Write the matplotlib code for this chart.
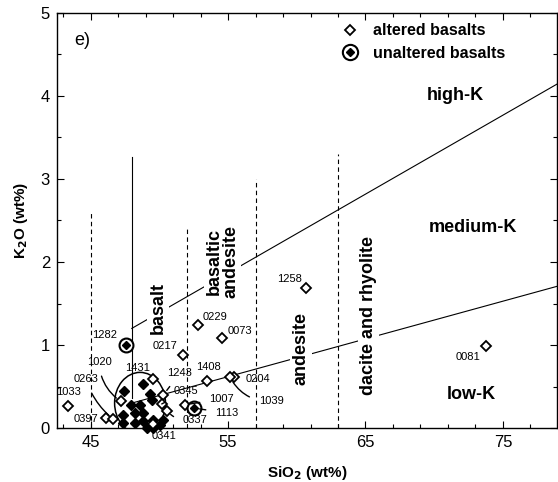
import numpy as np
import matplotlib
matplotlib.use("Agg")
import matplotlib.pyplot as plt
from matplotlib.lines import Line2D
from matplotlib.patches import Ellipse
from matplotlib.legend_handler import HandlerTuple
from matplotlib.ticker import FixedLocator, MultipleLocator

plt.rcParams['font.family'] = ['Liberation Sans', 'DejaVu Sans']

# altered basalts (open diamonds)
alt_id = ['1033', '0397', '0263', '1020', '1431', '0217', '1243', '0345', '0337', '0341',
          '1408', '0204', '1039', '1007', '0229', '0073', '1258', '0081']
alt_sio2 = [43.39, 46.13, 46.62, 47.2, 49.55, 51.75, 50.3, 50.18, 50.54, 49.52,
            53.45, 55.44, 55.15, 51.87, 52.8, 54.54, 60.65, 73.8]
alt_k2o = [0.265, 0.12, 0.11, 0.32, 0.59, 0.88, 0.40, 0.29, 0.21, 0.05,
           0.57, 0.62, 0.61, 0.28, 1.24, 1.08, 1.69, 0.99]

# unaltered basalts that carry a sample number (circled)
unalt_id = ['1282', '1113']
unalt_sio2 = [47.56, 52.53]
unalt_k2o = [1.0, 0.24]

# unaltered basalts inside the grouped field
clu_sio2 = [47.44, 48.84, 49.33, 47.92, 48.6, 49.45, 48.24, 47.39, 48.84,
            47.34, 48.24, 48.84, 49.57, 50.05, 50.29, 49.09, 49.57]
clu_k2o = [0.45, 0.53, 0.41, 0.28, 0.28, 0.34, 0.18, 0.16, 0.18,
           0.06, 0.06, 0.08, 0.10, 0.04, 0.10, 0.0, 0.0]

# rock-name boundaries (SiO2) and their upper ends (K2O)
vb_sio2 = [45, 48, 52, 57, 63]
vb_top = [2.6, 3.27, 2.42, 3.0, 3.3]
vb_bottom = [0, 0.36, 0, 0, 0]
vb_style = ['--', '-', '--', '--', '--']

# K-series boundaries
hk_sio2 = [48, 79]
hk_k2o = [1.2, 4.15]
lk_sio2 = [48, 79]
lk_k2o = [0.3, 1.71]

# label placement (text position) for each sample number
lab_pos = {
    '1033': (43.4, 0.43), '0397': (44.64, 0.11), '0263': (44.66, 0.59),
    '1020': (45.62, 0.80), '1431': (48.42, 0.72), '0217': (50.42, 0.99),
    '1243': (51.5, 0.66), '0345': (51.95, 0.44), '0337': (52.6, 0.10),
    '0341': (50.35, -0.10), '1408': (53.55, 0.73), '0204': (57.15, 0.59),
    '1039': (58.13, 0.32), '1007': (54.54, 0.35), '0229': (54.05, 1.34),
    '0073': (55.87, 1.17), '1258': (59.44, 1.80), '0081': (72.42, 0.85),
    '1282': (46.05, 1.12), '1113': (54.93, 0.18),
}
leader_rad = {'0263': 0.15, '1020': 0.25, '1243': 0.0, '0345': 0.0, '0337': -0.3,
              '1039': -0.3, '1007': 0.0, '1113': 0.0}

fig = plt.figure(figsize=(5.58, 4.82), dpi=100)
ax = fig.add_axes([57 / 558, 1 - 428 / 482, 500 / 558, 415 / 482])
ax.set_xlim(42.56, 78.93)
ax.set_ylim(0, 5)

for x, b, t, ls in zip(vb_sio2, vb_bottom, vb_top, vb_style):
    ax.plot([x, x], [b, t], color='black', lw=0.8, ls=ls, dashes=(4, 3) if ls == '--' else (None, None))
ax.plot(hk_sio2, hk_k2o, color='black', lw=0.8)
ax.plot(lk_sio2, lk_k2o, color='black', lw=0.8)

ax.add_patch(Ellipse((48.6, 0.3), 3.7, 0.74, fill=False, ec='black', lw=1.1, zorder=3))

ax.plot(clu_sio2, clu_k2o, ls='none', marker='D', ms=4.8, color='black', zorder=4, clip_on=False)
ax.plot(alt_sio2, alt_k2o, ls='none', marker='D', ms=5, mfc='white', mec='black', mew=1.3,
        zorder=5, clip_on=False)
ax.plot(unalt_sio2, unalt_k2o, ls='none', marker='o', ms=10, mfc='white', mec='black', mew=1.5, zorder=5)
ax.plot(unalt_sio2, unalt_k2o, ls='none', marker='D', ms=4.3, color='black', zorder=6)

for sid, x, y in zip(alt_id + unalt_id, alt_sio2 + unalt_sio2, alt_k2o + unalt_k2o):
    tx, ty = lab_pos[sid]
    if sid in leader_rad:
        ax.annotate(sid, xy=(x, y), xytext=(tx, ty), fontsize=8, ha='center', va='center',
                    arrowprops=dict(arrowstyle='-', lw=1.0, color='black', shrinkA=5, shrinkB=4,
                                    connectionstyle='arc3,rad=%g' % leader_rad[sid]),
                    zorder=7, annotation_clip=False)
    else:
        ax.text(tx, ty, sid, fontsize=8, ha='center', va='center', zorder=7)

mask = dict(facecolor='white', edgecolor='none', pad=1.5)
ax.text(44.38, 4.67, 'e)', fontsize=13, ha='center', va='center')
ax.text(71.5, 4.0, 'high-K', fontsize=13, fontweight='bold', ha='center', va='center')
ax.text(72.8, 2.41, 'medium-K', fontsize=13, fontweight='bold', ha='center', va='center')
ax.text(72.7, 0.4, 'low-K', fontsize=13, fontweight='bold', ha='center', va='center')
ax.text(49.9, 1.45, 'basalt', fontsize=13, fontweight='bold', rotation=90,
        ha='center', va='center', bbox=mask, zorder=3)
ax.text(54.6, 2.0, 'basaltic\nandesite', fontsize=13, fontweight='bold', rotation=90,
        ha='center', va='center', linespacing=0.95, bbox=mask, zorder=3)
ax.text(60.3, 0.96, 'andesite', fontsize=13, fontweight='bold', rotation=90,
        ha='center', va='center', bbox=mask, zorder=3)
ax.text(65.2, 1.35, 'dacite and rhyolite', fontsize=13, fontweight='bold', rotation=90,
        ha='center', va='center', bbox=mask, zorder=3)

h_alt = Line2D([], [], ls='none', marker='D', ms=5, mfc='white', mec='black', mew=1.3)
h_ring = Line2D([], [], ls='none', marker='o', ms=11, mfc='white', mec='black', mew=1.5)
h_dot = Line2D([], [], ls='none', marker='D', ms=4.3, color='black')
leg = ax.legend([h_alt, (h_ring, h_dot)], ['altered basalts', 'unaltered basalts'],
                handler_map={tuple: HandlerTuple(ndivide=1, pad=0)},
                loc='upper right', bbox_to_anchor=(0.915, 0.998), frameon=False,
                prop={'weight': 'bold', 'size': 11.5}, handlelength=1.6,
                handletextpad=0.6, labelspacing=0.45, borderaxespad=0.2)

ax.set_xticks([45, 55, 65, 75])
ax.xaxis.set_minor_locator(FixedLocator([43, 47, 49, 51, 53, 57, 59, 61, 63, 67, 69, 71, 73, 77]))
ax.set_yticks([0, 1, 2, 3, 4, 5])
ax.yaxis.set_minor_locator(MultipleLocator(0.5))
ax.tick_params(which='both', direction='in', top=True, right=True, labelsize=12, pad=5)
ax.tick_params(which='major', length=5, width=0.8)
ax.tick_params(which='minor', length=3, width=0.8)
for s in ax.spines.values():
    s.set_linewidth(1.0)

ax.set_xlabel('SiO$_\\mathbf{2}$ (wt%)', fontsize=11, fontweight='bold', labelpad=10)
ax.set_ylabel('K$_\\mathbf{2}$O (wt%)', fontsize=11, fontweight='bold', labelpad=8)

fig.savefig('out.png', dpi=100)
